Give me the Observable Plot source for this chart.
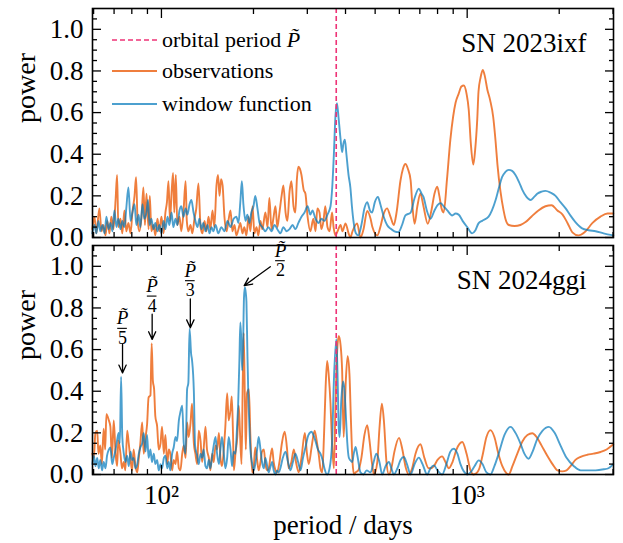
<!DOCTYPE html>
<html>
<head>
<meta charset="utf-8">
<script src="https://cdn.jsdelivr.net/npm/d3@7"></script>
<script src="https://cdn.jsdelivr.net/npm/@observablehq/plot@0.6"></script>
<style>
  body { margin: 0; background: #fff; }
  #wrap { position: relative; width: 623px; height: 543px; font-family: "Liberation Serif", "Times New Roman", serif; }
  #wrap > svg, #wrap > div { position: absolute; left: 0; }
</style>
</head>
<body>
<div id="wrap"></div>
<script>
// ---------- data ----------
const orbitalPeriod = 373; // days, dashed line

// SN 2023ixf — observations: log10(period / days) and power
const logPeriodObsA = [1.774,1.781,1.787,1.797,1.804,1.810,1.817,1.823,1.830,1.836,1.843,1.850,1.855,1.859,1.866,1.872,1.879,1.885,1.892,1.899,1.905,1.912,1.917,1.922,1.928,1.935,1.941,1.946,1.951,1.958,1.962,1.967,1.974,1.980,1.987,1.993,2.000,2.007,2.013,2.018,2.023,2.028,2.033,2.038,2.042,2.047,2.052,2.059,2.065,2.072,2.079,2.083,2.088,2.095,2.101,2.108,2.114,2.121,2.128,2.134,2.141,2.147,2.154,2.160,2.167,2.173,2.180,2.185,2.190,2.195,2.200,2.206,2.213,2.219,2.226,2.232,2.239,2.245,2.252,2.258,2.265,2.271,2.278,2.285,2.291,2.298,2.304,2.311,2.317,2.324,2.330,2.340,2.347,2.353,2.360,2.366,2.373,2.379,2.386,2.393,2.399,2.406,2.412,2.419,2.425,2.432,2.438,2.443,2.448,2.453,2.458,2.465,2.471,2.478,2.487,2.497,2.504,2.510,2.517,2.523,2.530,2.536,2.543,2.550,2.558,2.563,2.569,2.576,2.586,2.592,2.602,2.612,2.618,2.625,2.640,2.651,2.661,2.673,2.684,2.690,2.706,2.716,2.726,2.738,2.749,2.760,2.769,2.782,2.790,2.798,2.806,2.815,2.821,2.828,2.837,2.847,2.857,2.871,2.883,2.893,2.902,2.909,2.916,2.923,2.934,2.945,2.954,2.962,2.972,2.981,2.989,2.998,3.005,3.012,3.020,3.026,3.033,3.037,3.044,3.051,3.057,3.066,3.075,3.085,3.093,3.099,3.109,3.119,3.125,3.136,3.155,3.174,3.191,3.210,3.233,3.256,3.276,3.295,3.312,3.328,3.344,3.364,3.384,3.410,3.436,3.459,3.478];
const powerObsA = [0.04,0.10,0.02,0.14,0.03,0.06,0.01,0.08,0.02,0.10,0.04,0.18,0.30,0.05,0.09,0.02,0.13,0.03,0.07,0.02,0.12,0.20,0.29,0.08,0.03,0.10,0.24,0.06,0.21,0.04,0.20,0.03,0.06,0.01,0.09,0.03,0.10,0.02,0.12,0.17,0.27,0.08,0.21,0.31,0.12,0.30,0.06,0.10,0.03,0.12,0.27,0.08,0.03,0.06,0.02,0.09,0.14,0.26,0.05,0.02,0.08,0.03,0.10,0.04,0.13,0.05,0.25,0.30,0.20,0.28,0.25,0.10,0.03,0.08,0.13,0.03,0.06,0.01,0.04,0.07,0.02,0.05,0.01,0.10,0.03,0.15,0.02,0.05,0.01,0.08,0.04,0.12,0.05,0.19,0.04,0.09,0.15,0.05,0.12,0.20,0.25,0.12,0.08,0.22,0.27,0.15,0.12,0.28,0.34,0.33,0.30,0.23,0.21,0.10,0.03,0.09,0.03,0.14,0.12,0.04,0.08,0.15,0.05,0.03,0.12,0.05,0.01,0.03,0.06,0.03,0.068,0.02,0.0,0.03,0.068,0.0,0.04,0.128,0.09,0.05,0.01,0.05,0.11,0.14,0.10,0.06,0.12,0.275,0.33,0.353,0.33,0.275,0.15,0.066,0.15,0.21,0.15,0.066,0.13,0.21,0.244,0.20,0.14,0.12,0.28,0.47,0.58,0.647,0.69,0.725,0.73,0.69,0.615,0.45,0.35,0.42,0.57,0.70,0.77,0.805,0.78,0.71,0.66,0.58,0.46,0.35,0.22,0.13,0.09,0.06,0.055,0.06,0.074,0.10,0.13,0.15,0.155,0.13,0.11,0.07,0.025,0.01,0.025,0.07,0.10,0.115,0.115];

// SN 2023ixf — window function
const logPeriodWinA = [1.774,1.781,1.787,1.794,1.800,1.807,1.814,1.820,1.827,1.833,1.840,1.846,1.853,1.859,1.866,1.872,1.879,1.885,1.892,1.899,1.905,1.912,1.918,1.925,1.931,1.938,1.944,1.951,1.956,1.961,1.967,1.974,1.980,1.987,1.993,2.000,2.007,2.013,2.020,2.026,2.033,2.039,2.046,2.052,2.059,2.065,2.072,2.079,2.085,2.092,2.098,2.105,2.111,2.118,2.124,2.131,2.137,2.144,2.151,2.157,2.164,2.170,2.177,2.186,2.196,2.206,2.216,2.226,2.236,2.245,2.252,2.258,2.263,2.268,2.275,2.281,2.288,2.294,2.301,2.307,2.314,2.321,2.330,2.340,2.350,2.360,2.370,2.379,2.389,2.399,2.409,2.419,2.429,2.438,2.448,2.458,2.468,2.478,2.487,2.494,2.504,2.514,2.523,2.533,2.543,2.553,2.559,2.564,2.569,2.574,2.579,2.586,2.591,2.595,2.600,2.605,2.612,2.618,2.623,2.628,2.636,2.644,2.654,2.664,2.673,2.682,2.689,2.698,2.708,2.716,2.727,2.738,2.749,2.762,2.775,2.787,2.798,2.815,2.828,2.842,2.851,2.857,2.868,2.880,2.893,2.903,2.913,2.923,2.935,2.951,2.962,2.972,2.985,3.000,3.016,3.027,3.037,3.049,3.070,3.081,3.093,3.104,3.114,3.125,3.136,3.147,3.158,3.170,3.180,3.194,3.207,3.219,3.229,3.243,3.256,3.273,3.289,3.305,3.322,3.338,3.354,3.376,3.397,3.420,3.446,3.478];
const powerWinA = [0.02,0.06,0.02,0.08,0.03,0.06,0.02,0.10,0.04,0.07,0.03,0.13,0.05,0.09,0.04,0.08,0.05,0.14,0.24,0.08,0.12,0.16,0.06,0.11,0.05,0.16,0.09,0.12,0.18,0.06,0.09,0.04,0.07,0.03,0.06,0.02,0.08,0.04,0.10,0.06,0.12,0.05,0.09,0.06,0.13,0.15,0.10,0.14,0.11,0.16,0.18,0.12,0.08,0.05,0.09,0.04,0.07,0.03,0.06,0.02,0.05,0.03,0.06,0.02,0.05,0.03,0.08,0.05,0.09,0.10,0.07,0.17,0.27,0.16,0.08,0.11,0.07,0.12,0.15,0.20,0.14,0.07,0.05,0.03,0.05,0.03,0.06,0.04,0.02,0.05,0.03,0.04,0.06,0.04,0.07,0.10,0.12,0.15,0.11,0.13,0.09,0.07,0.09,0.08,0.11,0.15,0.25,0.40,0.58,0.645,0.58,0.47,0.41,0.45,0.47,0.40,0.30,0.24,0.15,0.08,0.02,0.01,0.06,0.14,0.17,0.13,0.12,0.17,0.195,0.16,0.10,0.06,0.043,0.03,0.026,0.06,0.106,0.12,0.19,0.235,0.21,0.195,0.13,0.09,0.13,0.155,0.165,0.15,0.13,0.106,0.115,0.11,0.08,0.05,0.02,0.035,0.068,0.08,0.10,0.13,0.18,0.24,0.29,0.315,0.325,0.32,0.30,0.265,0.23,0.195,0.18,0.195,0.21,0.22,0.224,0.215,0.20,0.17,0.14,0.105,0.074,0.044,0.035,0.03,0.02,0.01];

// SN 2024ggi — observations
const logPeriodObsB = [1.774,1.779,1.784,1.790,1.794,1.800,1.805,1.811,1.816,1.820,1.828,1.833,1.838,1.844,1.850,1.855,1.859,1.866,1.871,1.877,1.882,1.888,1.893,1.899,1.904,1.909,1.915,1.921,1.926,1.931,1.937,1.942,1.948,1.953,1.958,1.964,1.968,1.972,1.976,1.980,1.986,1.991,1.997,2.002,2.008,2.013,2.019,2.024,2.029,2.035,2.040,2.046,2.051,2.057,2.062,2.068,2.073,2.079,2.084,2.089,2.095,2.100,2.106,2.111,2.117,2.122,2.128,2.133,2.138,2.144,2.149,2.155,2.160,2.166,2.171,2.177,2.182,2.188,2.193,2.198,2.204,2.209,2.215,2.220,2.226,2.230,2.234,2.237,2.242,2.248,2.253,2.257,2.262,2.266,2.269,2.273,2.276,2.280,2.286,2.291,2.297,2.302,2.307,2.313,2.318,2.324,2.329,2.335,2.340,2.346,2.351,2.357,2.362,2.367,2.373,2.378,2.386,2.394,2.403,2.411,2.416,2.425,2.433,2.440,2.449,2.458,2.469,2.476,2.482,2.491,2.501,2.509,2.515,2.520,2.526,2.532,2.537,2.542,2.547,2.553,2.558,2.564,2.569,2.575,2.580,2.586,2.591,2.596,2.603,2.609,2.615,2.620,2.625,2.630,2.635,2.644,2.654,2.664,2.673,2.680,2.689,2.695,2.706,2.713,2.721,2.728,2.736,2.744,2.752,2.762,2.777,2.788,2.798,2.809,2.820,2.831,2.847,2.860,2.874,2.883,2.891,2.903,2.918,2.929,2.940,2.952,2.965,2.984,2.998,3.011,3.021,3.033,3.040,3.050,3.063,3.076,3.089,3.102,3.115,3.129,3.136,3.148,3.164,3.181,3.197,3.213,3.227,3.243,3.262,3.279,3.295,3.311,3.325,3.338,3.354,3.371,3.393,3.413,3.436,3.456,3.478];
const powerObsB = [0.10,0.08,0.20,0.21,0.10,0.14,0.05,0.22,0.12,0.29,0.26,0.23,0.08,0.26,0.10,0.04,0.165,0.10,0.03,0.06,0.02,0.21,0.15,0.07,0.02,0.12,0.04,0.01,0.08,0.15,0.25,0.10,0.18,0.24,0.37,0.38,0.63,0.45,0.41,0.28,0.23,0.12,0.15,0.23,0.10,0.19,0.05,0.12,0.10,0.02,0.07,0.05,0.11,0.03,0.02,0.10,0.14,0.08,0.25,0.18,0.245,0.34,0.15,0.10,0.05,0.21,0.16,0.06,0.12,0.23,0.12,0.08,0.02,0.10,0.06,0.14,0.12,0.20,0.08,0.04,0.12,0.23,0.39,0.26,0.31,0.375,0.20,0.02,0.10,0.18,0.33,0.20,0.05,0.45,0.68,0.35,0.12,0.39,0.41,0.18,0.01,0.04,0.13,0.07,0.02,0.06,0.11,0.12,0.05,0.02,0.03,0.09,0.125,0.06,0.02,0.01,0.06,0.15,0.205,0.12,0.03,0.06,0.12,0.06,0.01,0.08,0.20,0.10,0.05,0.13,0.21,0.15,0.09,0.03,0.01,0.20,0.42,0.545,0.48,0.34,0.15,0.03,0.32,0.60,0.665,0.62,0.50,0.18,0.45,0.568,0.48,0.25,0.06,0.0,0.01,0.02,0.08,0.19,0.237,0.17,0.05,0.0,0.06,0.22,0.34,0.25,0.06,0.0,0.03,0.11,0.176,0.12,0.04,0.0,0.03,0.10,0.145,0.08,0.03,0.03,0.04,0.07,0.087,0.06,0.03,0.06,0.12,0.156,0.10,0.02,0.0,0.01,0.03,0.09,0.18,0.213,0.18,0.10,0.04,0.005,0.0,0.04,0.10,0.16,0.19,0.198,0.18,0.14,0.09,0.05,0.02,0.015,0.02,0.04,0.07,0.085,0.095,0.10,0.108,0.12,0.145];

// SN 2024ggi — window function
const logPeriodWinB = [1.774,1.779,1.784,1.790,1.795,1.800,1.806,1.811,1.817,1.822,1.828,1.833,1.839,1.844,1.850,1.855,1.860,1.864,1.868,1.872,1.877,1.882,1.888,1.893,1.899,1.904,1.909,1.915,1.921,1.926,1.931,1.937,1.942,1.948,1.953,1.958,1.964,1.969,1.975,1.980,1.986,1.991,1.997,2.002,2.008,2.013,2.019,2.024,2.029,2.035,2.040,2.046,2.051,2.057,2.062,2.068,2.073,2.079,2.084,2.088,2.092,2.097,2.100,2.106,2.110,2.117,2.122,2.128,2.133,2.138,2.144,2.149,2.155,2.160,2.166,2.171,2.177,2.182,2.188,2.193,2.198,2.204,2.209,2.215,2.220,2.226,2.231,2.236,2.242,2.247,2.251,2.255,2.258,2.261,2.264,2.267,2.270,2.273,2.276,2.278,2.281,2.284,2.288,2.291,2.297,2.302,2.307,2.313,2.318,2.324,2.329,2.335,2.340,2.346,2.351,2.357,2.362,2.367,2.373,2.378,2.384,2.389,2.397,2.406,2.414,2.422,2.430,2.438,2.447,2.455,2.463,2.471,2.481,2.491,2.497,2.504,2.512,2.520,2.527,2.533,2.542,2.550,2.558,2.564,2.572,2.576,2.580,2.583,2.588,2.594,2.599,2.604,2.608,2.613,2.618,2.624,2.629,2.635,2.641,2.651,2.661,2.671,2.684,2.694,2.703,2.713,2.722,2.733,2.744,2.752,2.760,2.772,2.782,2.793,2.803,2.815,2.828,2.842,2.854,2.869,2.880,2.891,2.903,2.918,2.932,2.945,2.956,2.968,2.978,2.989,3.001,3.011,3.024,3.038,3.050,3.063,3.076,3.089,3.103,3.122,3.142,3.158,3.174,3.187,3.201,3.214,3.229,3.246,3.267,3.286,3.305,3.325,3.349,3.371,3.393,3.420,3.447,3.462,3.478];
const powerWinB = [0.05,0.09,0.04,0.08,0.03,0.07,0.02,0.06,0.03,0.09,0.12,0.13,0.05,0.08,0.12,0.165,0.20,0.15,0.47,0.18,0.10,0.06,0.09,0.04,0.11,0.07,0.08,0.03,0.05,0.10,0.13,0.15,0.20,0.11,0.19,0.08,0.12,0.06,0.10,0.05,0.07,0.02,0.05,0.03,0.08,0.09,0.03,0.06,0.02,0.10,0.13,0.18,0.16,0.26,0.30,0.33,0.15,0.10,0.41,0.44,0.70,0.58,0.55,0.40,0.14,0.09,0.05,0.10,0.08,0.12,0.04,0.03,0.07,0.03,0.09,0.14,0.18,0.10,0.05,0.12,0.18,0.10,0.03,0.08,0.18,0.12,0.04,0.11,0.10,0.22,0.34,0.55,0.73,0.65,0.50,0.62,0.85,0.90,0.87,0.83,0.60,0.39,0.22,0.12,0.05,0.02,0.05,0.12,0.18,0.12,0.06,0.03,0.08,0.04,0.01,0.04,0.06,0.02,0.0,0.02,0.01,0.03,0.08,0.11,0.06,0.02,0.06,0.10,0.06,0.02,0.08,0.13,0.19,0.205,0.19,0.16,0.12,0.10,0.07,0.03,0.0,0.03,0.15,0.45,0.65,0.48,0.22,0.18,0.35,0.447,0.40,0.26,0.15,0.08,0.068,0.06,0.10,0.132,0.09,0.01,0.0,0.02,0.01,0.06,0.10,0.06,0.0,0.04,0.06,0.03,0.0,0.03,0.07,0.084,0.05,0.0,0.05,0.081,0.05,0.0,0.03,0.044,0.02,0.0,0.05,0.11,0.124,0.10,0.05,0.015,0.0,0.01,0.04,0.068,0.05,0.01,0.0,0.04,0.10,0.19,0.229,0.20,0.15,0.10,0.076,0.11,0.17,0.21,0.229,0.20,0.14,0.08,0.04,0.02,0.02,0.02,0.025,0.03,0.05];

// harmonics of the orbital period marked in the lower panel
const harmonicN = [5, 4, 3, 2];
const arrowTailPeriod = [74.6, 93.25, 124.3, 227];
const arrowTailPower = [0.625, 0.77, 0.843, 0.998];
const arrowTipPeriod = [74.6, 93.25, 124.3, 186.5];
const arrowTipPower = [0.488, 0.649, 0.705, 0.907];
const labelPeriod = [74.6, 93.25, 124.3, 245];
const labelPower = [0.702, 0.857, 0.931, 1.027];

// axes
const xDomain = [59.5, 3010];
const yDomain = [0, 1.1];
const xMajorTicks = [100, 1000];
const xTickLabels = ["10²", "10³"];
const xMinorTicks = [60, 70, 80, 90, 200, 300, 400, 500, 600, 700, 800, 900, 2000, 3000];
const yMajorTicks = [0, 0.2, 0.4, 0.6, 0.8, 1.0];
const yMinorTicks = [0.05, 0.1, 0.15, 0.25, 0.3, 0.35, 0.45, 0.5, 0.55, 0.65, 0.7, 0.75, 0.85, 0.9, 0.95, 1.05];

// ---------- drawing ----------
const FONT = "'Liberation Serif', 'Times New Roman', serif";
const ORANGE = "#EE7733", BLUE = "#0077BB", PINK = "#EE3377";

const series = (logP, pow) => logP.map((lp, i) => ({period: 10 ** lp, power: pow[i]}));

function tickAxes() {
  const common = {fill: "none", stroke: "#000", strokeWidth: 1.3, label: null};
  return [
    Plot.axisX({...common, ticks: xMajorTicks, anchor: "bottom", tickSize: 9, dy: -9}),
    Plot.axisX({...common, ticks: xMinorTicks, anchor: "bottom", tickSize: 5, dy: -5}),
    Plot.axisX({...common, ticks: xMajorTicks, anchor: "top", tickSize: 9, dy: 9}),
    Plot.axisX({...common, ticks: xMinorTicks, anchor: "top", tickSize: 5, dy: 5}),
    Plot.axisY({...common, ticks: yMajorTicks, anchor: "left", tickSize: 9, dx: 9}),
    Plot.axisY({...common, ticks: yMinorTicks, anchor: "left", tickSize: 5, dx: 5}),
    Plot.axisY({...common, ticks: yMajorTicks, anchor: "right", tickSize: 9, dx: -9}),
    Plot.axisY({...common, ticks: yMinorTicks, anchor: "right", tickSize: 5, dx: -5})
  ];
}

function panel({obs, win, name, height, marginBottom, showXLabels, extra = []}) {
  return Plot.plot({
    width: 623, height, marginLeft: 92, marginRight: 10, marginTop: 8, marginBottom,
    style: {fontFamily: FONT, fontSize: "27px", background: "transparent", color: "#000", overflow: "visible"},
    x: {type: "log", domain: xDomain},
    y: {domain: yDomain},
    marks: [
      Plot.lineY(obs, {x: "period", y: "power", stroke: ORANGE, strokeWidth: 1.9, strokeOpacity: 0.95, curve: "monotone-x"}),
      Plot.lineY(win, {x: "period", y: "power", stroke: BLUE, strokeWidth: 1.9, strokeOpacity: 0.7, curve: "monotone-x"}),
      Plot.ruleX([orbitalPeriod], {stroke: PINK, strokeWidth: 1.6, strokeDasharray: "5,3"}),
      Plot.frame({stroke: "#000", strokeWidth: 1.6}),
      ...tickAxes(),
      Plot.axisY({ticks: yMajorTicks, anchor: "left", tickSize: 0, tickPadding: 9, tickFormat: d3.format(".1f"), label: null}),
      showXLabels ? Plot.axisX({ticks: xMajorTicks, anchor: "bottom", tickSize: 0, tickPadding: 10,
        tickFormat: d => xTickLabels[xMajorTicks.indexOf(d)], label: null}) : null,
      Plot.text([name], {text: d => d, frameAnchor: "top-right", lineAnchor: "middle", dx: -27, dy: 35, textAnchor: "end", fontSize: 27}),
      Plot.text(["power"], {text: d => d, frameAnchor: "left", lineAnchor: "middle", dx: -66, rotate: -90, fontSize: 28}),
      ...extra
    ]
  });
}

const annotations = harmonicN.map((n, i) => ({
  n, tailPeriod: arrowTailPeriod[i], tailPower: arrowTailPower[i],
  tipPeriod: arrowTipPeriod[i], tipPower: arrowTipPower[i],
  labelPeriod: labelPeriod[i], labelPower: labelPower[i]
}));

const annotationMarks = [
  Plot.arrow(annotations, {x1: "tailPeriod", y1: "tailPower", x2: "tipPeriod", y2: "tipPower",
    stroke: "#000", strokeWidth: 1.3, headLength: 10, headAngle: 50}),
  Plot.text(annotations, {x: "labelPeriod", y: "labelPower", text: () => "P\u0303", dy: -10, lineAnchor: "middle",
    fontStyle: "italic", fontSize: 19}),
  Plot.ruleY(annotations, {y: "labelPower", x1: d => d.labelPeriod / 1.037, x2: d => d.labelPeriod * 1.037,
    stroke: "#000", strokeWidth: 1.1}),
  Plot.text(annotations, {x: "labelPeriod", y: "labelPower", text: d => String(d.n), dy: 10, lineAnchor: "middle", fontSize: 18})
];

const wrap = document.getElementById("wrap");

const topPanel = panel({obs: series(logPeriodObsA, powerObsA), win: series(logPeriodWinA, powerWinA),
  name: "SN 2023ixf", height: 245, marginBottom: 8, showXLabels: false});
topPanel.style.top = "0px";
wrap.appendChild(topPanel);

const bottomPanel = panel({obs: series(logPeriodObsB, powerObsB), win: series(logPeriodWinB, powerWinB),
  name: "SN 2024ggi", height: 306, marginBottom: 69, showXLabels: true,
  extra: [
    ...annotationMarks,
    Plot.text(["period / days"], {text: d => d, frameAnchor: "bottom", lineAnchor: "middle", dy: 51, dx: -10, fontSize: 27})
  ]});
bottomPanel.style.top = "237px";
wrap.appendChild(bottomPanel);

// legend (upper-left of the top panel)
const legendItems = [
  {label: "orbital period ", italic: "P\u0303", color: PINK, dash: "5,3", opacity: 1, width: 1.6},
  {label: "observations", italic: "", color: ORANGE, dash: null, opacity: 0.95, width: 1.9},
  {label: "window function", italic: "", color: BLUE, dash: null, opacity: 0.7, width: 1.9}
];
const legendRows = [40, 71, 104];
const legendSvg = d3.create("svg").attr("width", 623).attr("height", 245)
  .style("top", "0px").style("pointer-events", "none").style("font-family", FONT);
legendItems.forEach((item, i) => {
  const y = legendRows[i];
  legendSvg.append("line").attr("x1", 112).attr("x2", 157).attr("y1", y).attr("y2", y)
    .attr("stroke", item.color).attr("stroke-width", item.width).attr("stroke-opacity", item.opacity)
    .attr("stroke-dasharray", item.dash);
  const t = legendSvg.append("text").attr("x", 162).attr("y", y + 6.5).attr("font-size", 22).attr("fill", "#000");
  t.append("tspan").text(item.label);
  if (item.italic) t.append("tspan").attr("font-style", "italic").text(item.italic);
});
wrap.appendChild(legendSvg.node());
</script>
</body>
</html>
